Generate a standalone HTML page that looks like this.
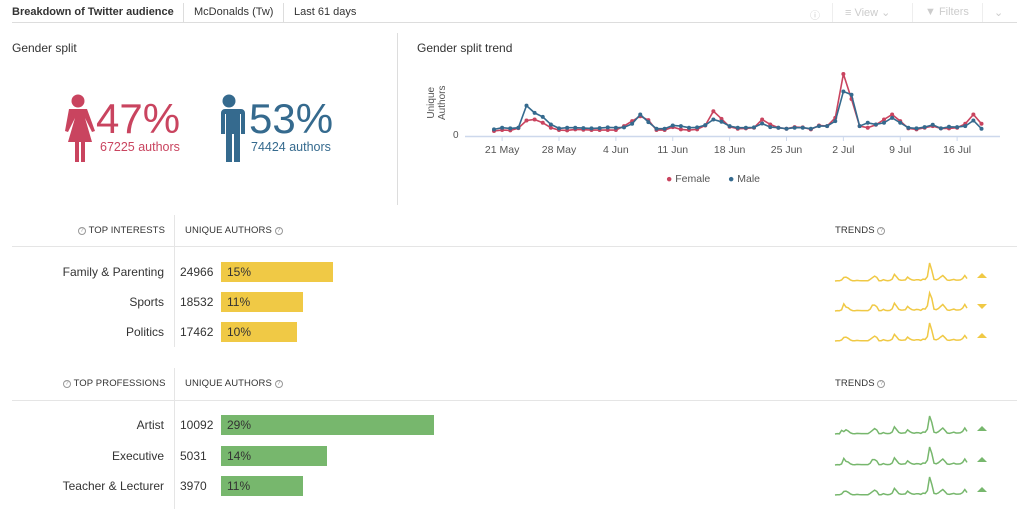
<!DOCTYPE html>
<html><head><meta charset="utf-8">
<style>
*{margin:0;padding:0;box-sizing:border-box}
body{width:1024px;height:509px;background:#fff;font-family:"Liberation Sans",sans-serif;color:#333;position:relative;overflow:hidden}
.a{position:absolute;white-space:nowrap}
.hd{font-size:11px;top:6px}
.sm{font-size:9.5px;color:#333;letter-spacing:0.1px}
.lbl{font-size:12px;text-align:right;width:150px;left:14px}
.num{font-size:12px;left:180px}
.bar{position:absolute;height:20px;left:221px;font-size:12px;padding-left:6px;line-height:20px;color:#333}
.q{display:inline-block;width:8px;height:8px;border:1px solid #999;border-radius:50%;font-size:6px;line-height:6px;text-align:center;color:#999;vertical-align:1px}
</style></head><body>
<div class="a hd" style="left:12px;font-weight:bold">Breakdown of Twitter audience</div>
<div class="a" style="left:183px;top:3px;width:1px;height:19px;background:#ddd"></div>
<div class="a hd" style="left:194px">McDonalds (Tw)</div>
<div class="a" style="left:283px;top:3px;width:1px;height:19px;background:#ddd"></div>
<div class="a hd" style="left:294px">Last 61 days</div>
<div class="a hd" style="left:810px;color:#ccc;font-size:10px;top:7px">ⓘ</div>
<div class="a" style="left:832px;top:3px;width:1px;height:19px;background:#eee"></div>
<div class="a hd" style="left:845px;color:#ccc">≡ View ⌄</div>
<div class="a" style="left:912px;top:3px;width:1px;height:19px;background:#eee"></div>
<div class="a hd" style="left:925px;color:#ccc">▼ Filters</div>
<div class="a" style="left:982px;top:3px;width:1px;height:19px;background:#eee"></div>
<div class="a hd" style="left:994px;color:#ccc">⌄</div>
<div class="a" style="left:12px;top:22px;width:1005px;height:1px;background:#ddd"></div>

<div class="a" style="left:12px;top:41px;font-size:12px">Gender split</div>
<div class="a" style="left:417px;top:41px;font-size:12px">Gender split trend</div>
<div class="a" style="left:397px;top:33px;width:1px;height:172px;background:#ddd"></div>

<svg class="a" style="left:60px;top:94px" width="36" height="68" viewBox="0 0 36 68">
<g fill="#c9445f"><circle cx="18" cy="7" r="6.5"/><path d="M9 15h18l8 22-3 1-7-14 7 24h-7v20h-4v-20h-2v20h-4v-20h-7l7-24-7 14-3-1z"/></g></svg>
<div class="a" style="left:96px;top:95px;font-size:42px;color:#c9445f">47%</div>
<div class="a" style="left:100px;top:140px;font-size:12.5px;color:#c9445f">67225 authors</div>
<svg class="a" style="left:212px;top:94px" width="34" height="68" viewBox="0 0 34 68">
<g fill="#356a8e"><circle cx="17" cy="7" r="6.5"/><path d="M5 15h24a4 4 0 0 1 4 4v21h-4v-20h-1v48h-6v-28h-2v28h-6v-48h-1v20h-4v-21a4 4 0 0 1 4-4z"/></g></svg>
<div class="a" style="left:249px;top:95px;font-size:42px;color:#356a8e">53%</div>
<div class="a" style="left:251px;top:140px;font-size:12.5px;color:#356a8e">74424 authors</div>

<svg class="a" style="left:0;top:0" width="1024" height="509" id="s"></svg>

<div class="a sm" style="left:78px;top:225px"><span class="q">?</span> TOP INTERESTS</div>
<div class="a sm" style="left:185px;top:225px">UNIQUE AUTHORS <span class="q">?</span></div>
<div class="a sm" style="left:835px;top:225px">TRENDS <span class="q">?</span></div>
<div class="a" style="left:12px;top:246px;width:1005px;height:1px;background:#e5e5e5"></div>
<div class="a" style="left:174px;top:215px;width:1px;height:132px;background:#e5e5e5"></div>
<div class="a lbl" style="top:265px">Family &amp; Parenting</div><div class="a num" style="top:265px">24966</div><div class="bar" style="top:262px;width:112px;background:#f0c945">15%</div>
<div class="a lbl" style="top:295px">Sports</div><div class="a num" style="top:295px">18532</div><div class="bar" style="top:292px;width:82px;background:#f0c945">11%</div>
<div class="a lbl" style="top:325px">Politics</div><div class="a num" style="top:325px">17462</div><div class="bar" style="top:322px;width:76px;background:#f0c945">10%</div>

<div class="a sm" style="left:63px;top:378px"><span class="q">?</span> TOP PROFESSIONS</div>
<div class="a sm" style="left:185px;top:378px">UNIQUE AUTHORS <span class="q">?</span></div>
<div class="a sm" style="left:835px;top:378px">TRENDS <span class="q">?</span></div>
<div class="a" style="left:12px;top:400px;width:1005px;height:1px;background:#e5e5e5"></div>
<div class="a" style="left:174px;top:368px;width:1px;height:141px;background:#e5e5e5"></div>
<div class="a lbl" style="top:418px">Artist</div><div class="a num" style="top:418px">10092</div><div class="bar" style="top:415px;width:213px;background:#77b76d">29%</div>
<div class="a lbl" style="top:449px">Executive</div><div class="a num" style="top:449px">5031</div><div class="bar" style="top:446px;width:106px;background:#77b76d">14%</div>
<div class="a lbl" style="top:479px">Teacher &amp; Lecturer</div><div class="a num" style="top:479px">3970</div><div class="bar" style="top:476px;width:82px;background:#77b76d">11%</div>

<div class="a" style="left:426px;font-size:10px;color:#555;transform:rotate(-90deg);transform-origin:0 0;top:120px;line-height:11px;text-align:center">Unique<br>Authors</div>
<div class="a" style="left:453px;top:130px;font-size:10px;color:#555">0</div>
<div class="a" style="left:0;top:173px;width:1024px;font-size:10.5px;color:#555">
<span class="a" style="left:666px"><span style="color:#c9445f">●</span> Female</span>
<span class="a" style="left:728px"><span style="color:#356a8e">●</span> Male</span></div>

<script>
var M=[210,205,207,205,138,160,172,195,207,205,205,206,207,206,204,205,204,193,165,188,208,208,198,200,205,204,197,180,187,200,205,205,204,192,203,205,208,205,205,208,200,200,185,95,105,200,190,195,190,175,190,205,207,203,196,207,202,203,200,183,208];
var F=[215,212,213,206,183,180,190,205,212,213,210,211,212,212,212,212,200,185,170,182,212,212,203,210,212,210,198,155,178,202,208,207,205,180,195,205,208,203,204,210,198,200,175,42,118,200,205,196,180,165,185,207,210,205,200,207,207,205,193,165,193];
var s='',X=function(i){return 494+i*8.125},Y=function(v){return 136-(230-v)/3.03};
s+='<line x1="465" y1="136.5" x2="1000" y2="136.5" stroke="#cdd8ec" stroke-width="1.5"/>';
var t=['21 May','28 May','4 Jun','11 Jun','18 Jun','25 Jun','2 Jul','9 Jul','16 Jul'];
t.forEach(function(l,k){var x=X(1+7*k);s+='<line x1="'+x+'" y1="136" x2="'+x+'" y2="141" stroke="#cdd8ec"/><text x="'+x+'" y="153" font-size="10.5" fill="#555" text-anchor="middle" font-family="Liberation Sans">'+l+'</text>';});
function ser(a,c){var p=a.map(function(v,i){return X(i).toFixed(1)+','+Y(v).toFixed(1)}).join(' ');s+='<polyline points="'+p+'" fill="none" stroke="'+c+'" stroke-width="1.6"/>';a.forEach(function(v,i){s+='<circle cx="'+X(i)+'" cy="'+Y(v)+'" r="2" fill="'+c+'"/>'});}
ser(F,'#c9445f');ser(M,'#356a8e');
function spark(y,c,a,k,up){var p=a.map(function(v,i){var h=(215-v)*k;if(h>18)h=18;return (835+i*2.2).toFixed(1)+','+(y-h).toFixed(1)}).join(' ');s+='<polyline points="'+p+'" fill="none" stroke="'+c+'" stroke-width="1.5"/>';
s+=up?'<polygon points="977,'+(y-3)+' 987,'+(y-3)+' 982,'+(y-8)+'" fill="'+c+'"/>':'<polygon points="977,'+(y-7)+' 987,'+(y-7)+' 982,'+(y-2)+'" fill="'+c+'"/>';}
var S2=F.slice();S2[4]=160;S2[5]=185;S2[17]=170;
spark(281,'#f0c945',F,0.11,1);spark(311,'#f0c945',S2,0.13,0);spark(341,'#f0c945',F,0.11,1);
var G1=F.slice();G1[3]=185;G1[4]=195;
spark(434,'#77b76d',G1,0.12,1);spark(465,'#77b76d',S2,0.12,1);spark(495,'#77b76d',F,0.11,1);
document.getElementById('s').innerHTML=s;
</script>
</body></html>
